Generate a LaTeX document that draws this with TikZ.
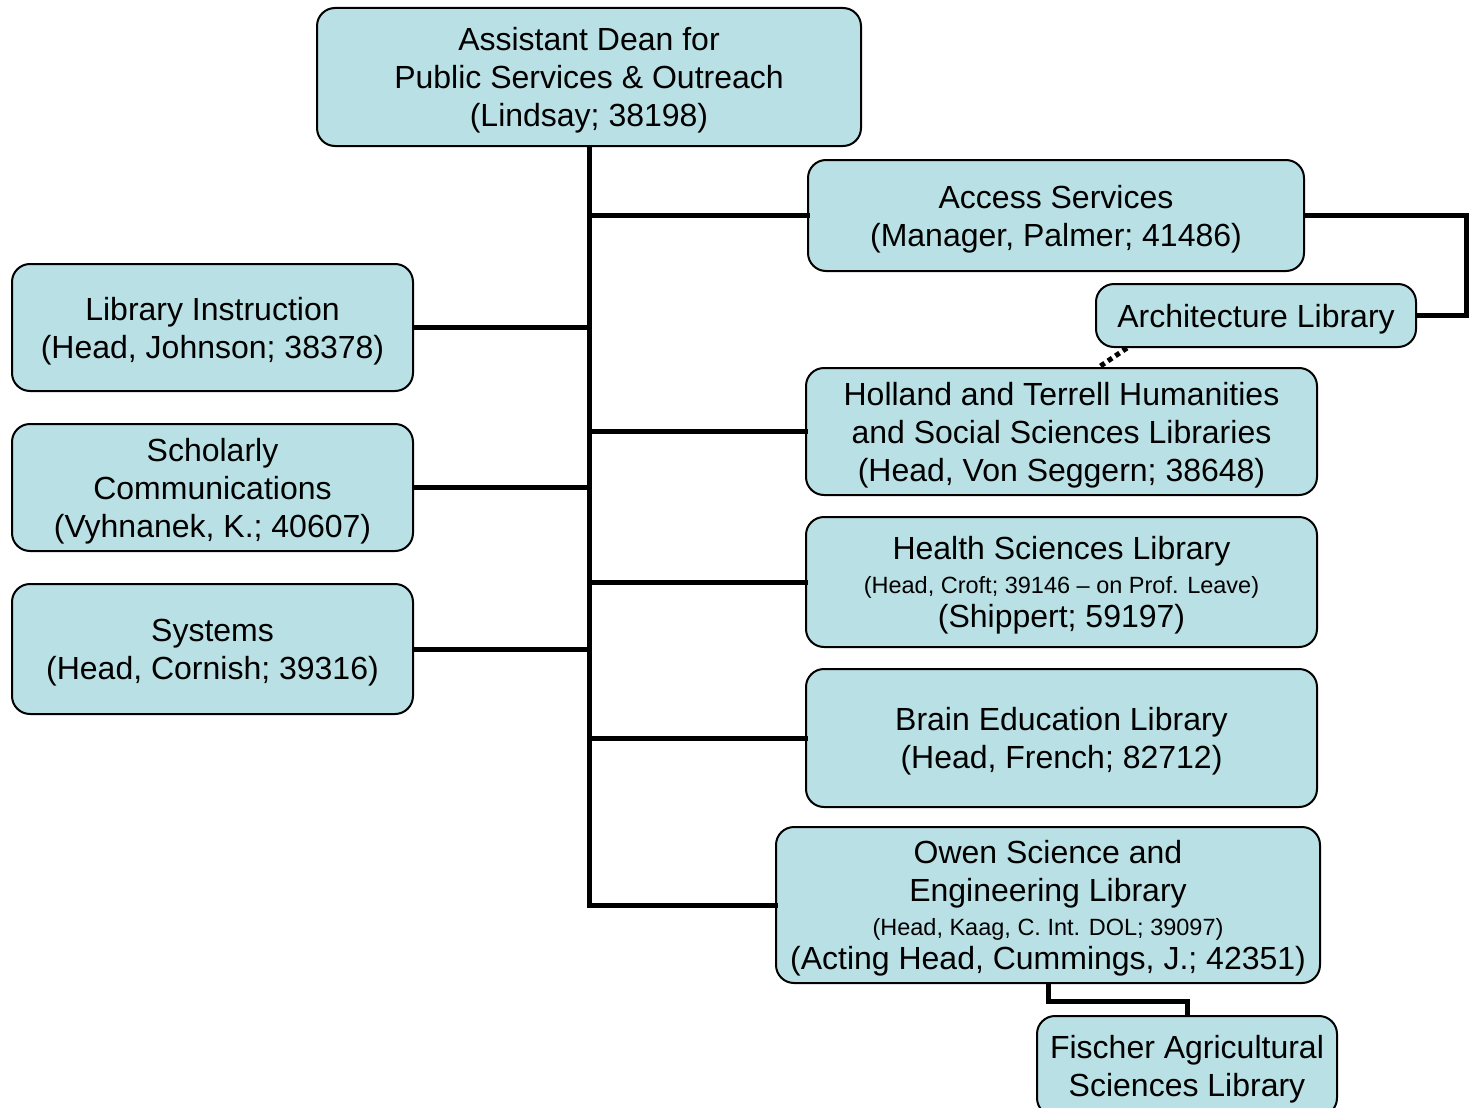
\documentclass[tikz,border=0pt]{standalone}
\usepackage{fontspec}
\setmainfont{Liberation Sans}
\definecolor{boxfill}{RGB}{185,224,228}
\newcommand\bigf{\fontsize{32}{38}\selectfont}
\newcommand\smf{\fontsize{23.5}{28}\selectfont}
\begin{document}
\begin{tikzpicture}[x=1pt,y=-1pt,
  orgbox/.style={draw=black,line width=2pt,fill=boxfill,rounded corners=18pt,
    align=center,inner sep=0pt,font=\bigf,text depth=-8pt},
  link/.style={line width=5pt,line cap=rect},
  dots/.style={line width=5pt,dash pattern=on 5pt off 4pt}]
\useasboundingbox (0,0) rectangle (1470,1108);
\node[orgbox,minimum width=544pt,minimum height=138pt] (dean) at (589,77)
  {Assistant Dean for\\Public Services \& Outreach\\(Lindsay; 38198)};
\node[orgbox,minimum width=496pt,minimum height=111pt] (acc) at (1056,215.5)
  {Access Services\\(Manager, Palmer; 41486)};
\node[orgbox,minimum width=320pt,minimum height=63pt] (arch) at (1256,315.5)
  {Architecture Library};
\node[orgbox,minimum width=511pt,minimum height=127pt] (holl) at (1061.5,431.5)
  {Holland and Terrell Humanities\\and Social Sciences Libraries\\(Head, Von Seggern; 38648)};
\node[orgbox,minimum width=511pt,minimum height=130pt] (hsl) at (1061.5,582)
  {Health Sciences Library\\[-4pt]{\smf (Head, Croft; 39146 -- on Prof. Leave)}\\[-4pt](Shippert; 59197)};
\node[orgbox,minimum width=511pt,minimum height=138pt] (brain) at (1061.5,738)
  {Brain Education Library\\(Head, French; 82712)};
\node[orgbox,minimum width=544pt,minimum height=156pt] (owen) at (1048,905)
  {Owen Science and\\Engineering Library\\[-4pt]{\smf (Head, Kaag, C. Int. DOL; 39097)}\\[-4pt](Acting Head, Cummings, J.; 42351)};
\node[orgbox,minimum width=300pt,minimum height=100pt] (fis) at (1187,1066)
  {Fischer Agricultural\\Sciences Library};
\node[orgbox,minimum width=401pt,minimum height=127pt] (li) at (212.5,327.5)
  {Library Instruction\\(Head, Johnson; 38378)};
\node[orgbox,minimum width=401pt,minimum height=127pt] (sc) at (212.5,487.5)
  {Scholarly\\Communications\\(Vyhnanek, K.; 40607)};
\node[orgbox,minimum width=401pt,minimum height=130pt] (sys) at (212.5,649)
  {Systems\\(Head, Cornish; 39316)};
\draw[link] (dean.south) -- (dean.south |- owen.west) -- (owen.west);
\draw[link] (dean.south |- acc.west) -- (acc.west);
\draw[link] (dean.south |- holl.west) -- (holl.west);
\draw[link] (dean.south |- hsl.west) -- (hsl.west);
\draw[link] (dean.south |- brain.west) -- (brain.west);
\draw[link] (li.east) -- (li.east -| dean.south);
\draw[link] (sc.east) -- (sc.east -| dean.south);
\draw[link] (sys.east) -- (sys.east -| dean.south);
\draw[link,line cap=butt] (acc.east) -- ++(161,0) |- (arch.east);
\draw[link,line cap=butt] (owen.south) -- ++(0,17) -| (fis.north);
\draw[dots] ([xshift=32pt]arch.south west) -- ([xshift=294pt]holl.north west);
\end{tikzpicture}
\end{document}
